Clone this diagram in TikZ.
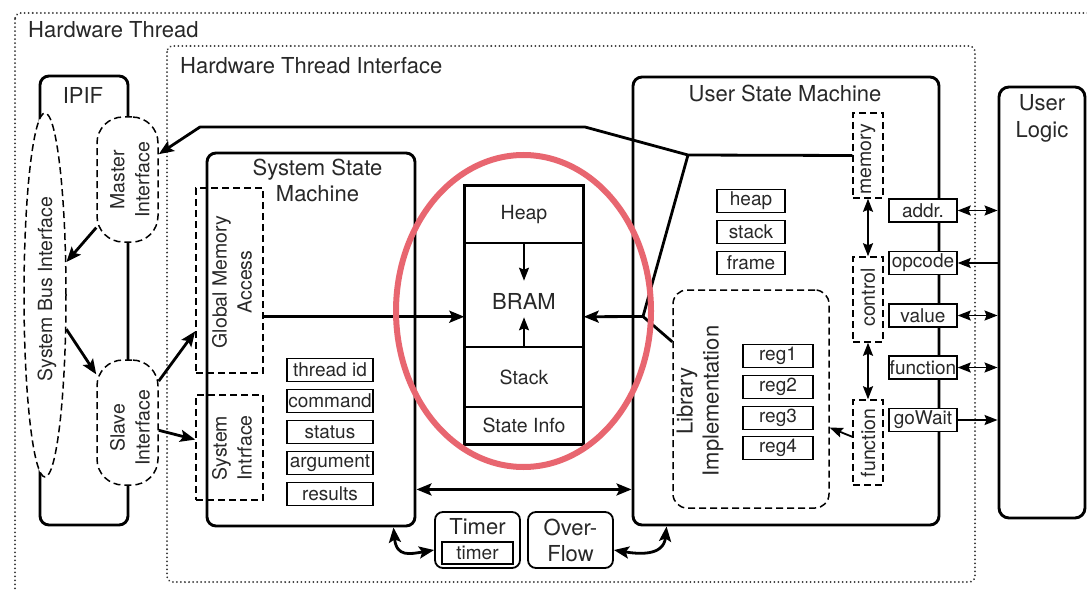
\documentclass[tikz,border=0pt]{standalone}
\usepackage{fontspec}
\setmainfont{TeX Gyre Heros}
\usetikzlibrary{arrows.meta,shapes.geometric,calc}
\definecolor{focusred}{RGB}{232,102,112}
\definecolor{inkgray}{RGB}{40,40,40}

\begin{document}
\begin{tikzpicture}[x=1pt,y=-1pt,
  txt/.style={text=inkgray, inner sep=0pt},
  fA/.style={font=\fontsize{22}{26}\selectfont},
  fB/.style={font=\fontsize{19.5}{25}\selectfont},
  fC/.style={font=\fontsize{19}{22}\selectfont},
  mainbox/.style={draw, line width=2.9pt, rounded corners=9pt, inner sep=0pt},
  cell/.style={draw, line width=1.4pt, fill=white, inner sep=0pt, minimum height=23pt, fC, text=inkgray},
  dbox/.style={draw, line width=1.5pt, dash pattern=on 7pt off 4pt, inner sep=0pt},
  dotbox/.style={line width=2pt, dash pattern=on 0.01pt off 4pt, line cap=round, black!80},
  conn/.style={line width=2.8pt},
  tipE/.style={-{Stealth[length=15pt,width=12pt,inset=3pt]}},
  tipB/.style={{Stealth[length=15pt,width=12pt,inset=3pt]}-{Stealth[length=15pt,width=12pt,inset=3pt]}},
  thin/.style={line width=1.8pt},
  stipE/.style={-{Stealth[length=13pt,width=10pt,inset=2pt]}},
  stipS/.style={{Stealth[length=13pt,width=10pt,inset=2pt]}-},
  stipB/.style={{Stealth[length=13pt,width=10pt,inset=2pt]}-{Stealth[length=13pt,width=10pt,inset=2pt]}}
]
\useasboundingbox (0,0) rectangle (1087,591);
\clip (0,0) rectangle (1087,591);
\fill[white] (0,0) rectangle (1087,591);

% enclosing regions
\draw[dotbox, rounded corners=6pt] (15,13) rectangle (1110,610);
\node[txt,fA,anchor=west] (hwt) at (28,30) {Hardware Thread};
\draw[dotbox, rounded corners=6pt] (167,46) rectangle (975,582);
\node[txt,fA,anchor=west] (hwti) at (180,66) {Hardware Thread Interface};

% IPIF block
\node[mainbox, minimum width=88pt, minimum height=449pt] (ipif) at (84,300.5) {};
\node[txt,fA] (ipiflbl) at (83,95) {IPIF};
\node[ellipse, dbox, fill=white, minimum width=42pt, minimum height=364pt] (sbi) at (45,295) {};
\node[txt,fB,rotate=90] (sbilbl) at (47,289) {System Bus Interface};
\node[dbox, fill=white, rounded corners=26pt, minimum width=61pt, minimum height=125pt] (mst) at (127.5,179.5) {};
\node[txt,fB,rotate=90,align=center] (mstlbl) at (130,180) {Master\\Interface};
\node[dbox, fill=white, rounded corners=26pt, minimum width=61pt, minimum height=125pt] (slv) at (127.5,422.5) {};
\node[txt,fB,rotate=90,align=center] (slvlbl) at (130,428) {Slave\\Interface};

% System State Machine
\node[mainbox, minimum width=208pt, minimum height=373pt] (ssm) at (311,339.5) {};
\node[txt,fA,align=center] (ssmlbl) at (317.5,180) {System State\\Machine};
\node[dbox, minimum width=67pt, minimum height=185pt] (gma) at (229.5,280.5) {};
\node[txt,fB,rotate=90,align=center] (gmalbl) at (232,282) {Global Memory\\Access};
\node[dbox, minimum width=67pt, minimum height=105pt] (si) at (229.5,447.5) {};
\node[txt,fB,rotate=90,align=center] (silbl) at (232,448) {System\\Intrface};
\node[cell, minimum width=86pt] (tid) at (330,370) {thread id};
\node[cell, minimum width=86pt] (cmd) at (330,401) {command};
\node[cell, minimum width=86pt] (sts) at (330,432) {status};
\node[cell, minimum width=86pt] (arg) at (330,463) {argument};
\node[cell, minimum width=86pt] (res) at (330,494) {results};

% BRAM
\node[cell, minimum width=118pt, minimum height=57pt, fB] (heap) at (524,214.5) {Heap};
\node[cell, minimum width=118pt, minimum height=104pt] (bramc) at (524,295) {};
\node[cell, minimum width=118pt, minimum height=60pt, fB] (stackc) at (524,377) {Stack};
\node[cell, minimum width=118pt, minimum height=37pt, fB] (info) at (524,425.5) {State Info};
\draw[line width=3pt] (heap.north west) rectangle (info.south east);
\node[txt,fA] (bramlbl) at (524,301) {BRAM};
\draw[thin, stipE] (heap.south) -- ++(0,37);
\draw[thin, stipE] (stackc.north) -- ++(0,-29);

% Timer and Overflow
\node[mainbox, line width=1.8pt, rounded corners=8pt, minimum width=85pt, minimum height=56pt] (tmr) at (477.5,540) {};
\node[txt,fA] (tmrlbl) at (477.5,527) {Timer};
\node[cell, line width=1.6pt, minimum width=71pt, minimum height=22pt] (tmrin) at (477.5,553) {timer};
\node[mainbox, line width=1.8pt, rounded corners=8pt, minimum width=85pt, minimum height=56pt, fA, text=inkgray, align=center] (ovf) at (570.5,540) {Over-\\Flow};

% User State Machine
\node[mainbox, minimum width=306pt, minimum height=448pt] (usm) at (786,301) {};
\node[txt,fA] (usmlbl) at (785,93) {User State Machine};
\node[dbox, minimum width=30pt, minimum height=85pt] (mem) at (868,155.5) {};
\node[txt,fB,rotate=90] (memlbl) at (868,159.5) {memory};
\node[dbox, minimum width=30pt, minimum height=85pt] (ctl) at (868,299.5) {};
\node[txt,fB,rotate=90] (ctllbl) at (868,297.5) {control};
\node[dbox, minimum width=30pt, minimum height=85pt] (fnc) at (868,442.5) {};
\node[txt,fB,rotate=90] (fnclbl) at (868,443) {function};
\node[cell, minimum width=68pt] (hp) at (751,201) {heap};
\node[cell, minimum width=68pt] (stk) at (751,232) {stack};
\node[cell, minimum width=68pt] (frm) at (751,263) {frame};
\node[dbox, rounded corners=14pt, minimum width=156pt, minimum height=218pt] (lib) at (751,399) {};
\node[txt,fA,rotate=90,align=center] (liblbl) at (700,401) {Library\\Implementation};
\node[cell, minimum width=70pt] (r1) at (778,356) {reg1};
\node[cell, minimum width=70pt] (r2) at (778,387) {reg2};
\node[cell, minimum width=70pt] (r3) at (778,418) {reg3};
\node[cell, minimum width=70pt] (r4) at (778,448) {reg4};

% interface registers towards the user logic
\node[cell, minimum width=68pt] (addr) at (923,210.5) {addr.};
\node[cell, minimum width=68pt] (opc) at (923,263) {opcode};
\node[cell, minimum width=68pt] (val) at (923,315.5) {value};
\node[cell, minimum width=68pt] (fun) at (923,367.5) {function};
\node[cell, minimum width=68pt] (gow) at (923,420) {goWait};

% User Logic
\node[mainbox, rounded corners=10pt, minimum width=86pt, minimum height=431pt] (ul) at (1042,302.5) {};
\node[txt,align=center,font=\fontsize{22}{27}\selectfont] (ullbl) at (1042,118) {User\\Logic};

% connectors
\coordinate (j1) at (688,155);
\coordinate (j2) at (585,127);
\coordinate (j3) at (200,127);
\coordinate (j4) at (643,316.5);
\draw[conn, tipE, line join=round] (mem.west) -- (j1) -- (j2) -- (j3) -- (mst.39);
\draw[conn] (j1) -- (j4);
\draw[conn, tipE] (j4) -- (bramc.-20);
\draw[conn] (j4) -- (lib.144);
\draw[conn, tipE] (gma.east |- bramc.200) -- (bramc.200);

\draw[conn, tipE] (mst.-123) -- (sbi.57);
\draw[conn, tipE] (sbi.-58) -- (slv.123);
\draw[conn, tipE] (slv.53) -- (gma.236);
\draw[conn, tipE] (slv.-14) -- (si.167);

\draw[conn, tipB] ($(ssm.south east)+(0,-38)$) coordinate (c1) -- (usm.west |- c1);

\draw[conn, tipB] ($(ssm.south east)+(-23,0)$) .. controls +(3,30) and +(-24,4) .. (tmr.193);
\draw[conn, tipB] (ovf.-13) .. controls +(24,4) and +(-3,30) .. ($(usm.south west)+(35,0)$);

\draw[thin, stipB] (mem.south) -- (ctl.north);
\draw[thin, stipB] (ctl.south) -- (fnc.north);
\draw[thin, stipE] (fnc.160) -- (lib.-20);

\draw[thin, stipB] (addr.east) -- (ul.west |- addr.east);
\draw[thin, stipS] (opc.east) -- (ul.west |- opc.east);
\draw[thin, stipB] (val.east) -- (ul.west |- val.east);
\draw[thin, stipB] (fun.east) -- (ul.west |- fun.east);
\draw[thin, stipE] (gow.east) -- (ul.west |- gow.east);

% highlight around the BRAM
\node[ellipse, draw=focusred, line width=6pt, minimum width=255pt, minimum height=312pt, inner sep=0pt] (focus) at (523.5,311) {};
\end{tikzpicture}
\end{document}
